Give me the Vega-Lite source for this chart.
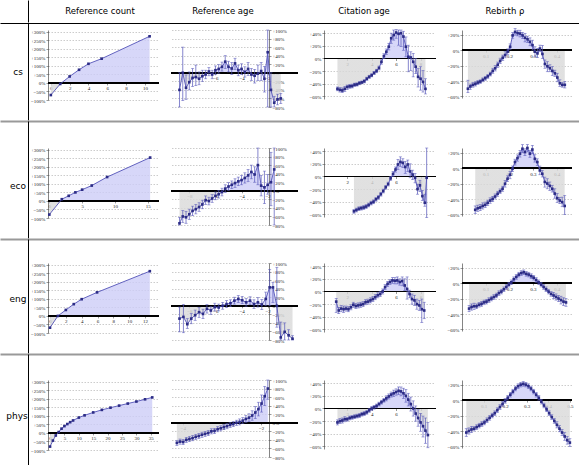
{
"$schema":"https://vega.github.io/schema/vega-lite/v6.json",
"padding":0,
"background":"white",
"config":{"view":{"stroke":null},"concat":{"spacing":0},
 "axis":{"labelFont":"Liberation Serif","labelFontSize":5,"labelColor":"#222","tickColor":"#333","tickSize":2,"tickWidth":0.5,"domainColor":"#333","domainWidth":0.6,"labelPadding":1,"gridColor":"#999","gridDash":[1.5,1.5],"gridWidth":0.5,"labelFlush":false,"labelOverlap":false},
 "axisX":{"grid":false,"domain":false,"zindex":1},
 "axisY":{"grid":true,"domain":true},
 "area":{"opacity":0.8}},
"spacing":0,
"vconcat":[
{"hconcat":[
 {"width":28,"height":22,"data":{"values":[{"name":""}]},"mark":{"type":"text","font":"DejaVu Sans","fontSize":9},"encoding":{"text":{"field":"name"},"y":{"datum":0,"type":"quantitative","scale":{"domain":[-1,1]},"axis":{"orient":"right","domain":true,"domainColor":"black","domainWidth":1,"ticks":false,"labels":false,"grid":false,"title":null}}}},
 {"hconcat":[
  {"width":144,"height":22,"data":{"values":[{"t":"Reference count"}]},"mark":{"type":"text","font":"DejaVu Sans","fontSize":8.5},"encoding":{"text":{"field":"t"}}},
  {"width":102,"height":22,"data":{"values":[{"t":"Reference age"}]},"mark":{"type":"text","font":"DejaVu Sans","fontSize":8.5},"encoding":{"text":{"field":"t"}}},
  {"width":180,"height":22,"data":{"values":[{"t":"Citation age"}]},"mark":{"type":"text","font":"DejaVu Sans","fontSize":8.5},"encoding":{"text":{"field":"t"}}},
  {"width":102,"height":22,"data":{"values":[{"t":"Rebirth ρ"}]},"mark":{"type":"text","font":"DejaVu Sans","fontSize":8.5},"encoding":{"text":{"field":"t"}}}
 ],"spacing":0}
],"spacing":0},
{"width":579,"height":1,"data":{"values":[{}]},"mark":{"type":"rule","opacity":0},"encoding":{"x":{"datum":0,"type":"quantitative","scale":{"domain":[0,1]},"axis":{"orient":"bottom","domain":true,"domainColor":"black","domainWidth":1,"ticks":false,"labels":false,"grid":false,"title":null}}}},
{"hconcat":[
 {"width":28,"height":97,"data":{"values":[{"name":"cs"}]},"mark":{"type":"text","font":"DejaVu Sans","fontSize":9,"dx":4},"encoding":{"text":{"field":"name"},"y":{"datum":0,"type":"quantitative","scale":{"domain":[-1,1]},"axis":{"orient":"right","domain":true,"domainColor":"black","domainWidth":1,"ticks":false,"labels":false,"grid":false,"title":null}}}},
 {"vconcat":[
  {"width":1,"height":5,"data":{"values":[{}]},"mark":{"type":"rule","opacity":0},"encoding":{"x":{"datum":0,"type":"quantitative","scale":{"domain":[0,1]},"axis":null}}},
  {"hconcat":[
   {"width":111,"height":70,"data":{"values":[{"x":0,"v":-71},{"x":1,"v":-6},{"x":2,"v":38},{"x":3,"v":77},{"x":4,"v":112},{"x":5.4,"v":142},{"x":10.5,"v":273}]},
    "encoding":{"x":{"field":"x","type":"quantitative","scale":{"domain":[-0.3,11.5],"nice":false,"zero":false},"axis":{"values":[0,2,4,6,8,10],"offset":-17.07,"title":null}},
     "y":{"field":"v","type":"quantitative","scale":{"domain":[-100,310],"nice":false,"zero":false},"axis":{"values":[-100,-50,0,50,100,150,200,250,300],"title":null,"labelExpr":"datum.value > 0 ? '+' + datum.value + '%' : (datum.value < 0 ? '−' + (-datum.value) + '%' : '0%')"}}},
    "layer":[
     {"mark":{"type":"area","color":{"gradient":"linear","x1":0,"y1":0,"x2":0,"y2":1,"stops":[{"offset":0,"color":"#cdcdf7"},{"offset":0.794,"color":"#cdcdf7"},{"offset":0.794,"color":"#d9d9d9"},{"offset":1,"color":"#d9d9d9"}]}},"encoding":{"y2":{"datum":0}}},
     {"mark":{"type":"rule","color":"black","strokeWidth":1.2},"encoding":{"x":{"datum":-0.3},"x2":{"datum":11.5},"y":{"datum":0}}},
     {"mark":{"type":"line","color":"#5252b8","strokeWidth":0.9},"encoding":{}},
     {"mark":{"type":"square","size":7,"color":"#2c2c86","opacity":1},"encoding":{}}
    ]},
   {"width":98,"height":77,"data":{"values":[{"x":-8.75,"v":-40,"lo":-80,"hi":0},{"x":-8.5,"v":0,"lo":-65,"hi":60},{"x":-8.25,"v":-35,"lo":-62,"hi":-5},{"x":-8,"v":-22,"lo":-40,"hi":2},{"x":-7.75,"v":-12,"lo":-32,"hi":10},{"x":-7.5,"v":-10,"lo":-30,"hi":18},{"x":-7.25,"v":-14,"lo":-28,"hi":2},{"x":-7,"v":-8,"lo":-20,"hi":6},{"x":-6.75,"v":-4,"lo":-14,"hi":6},{"x":-6.5,"v":3,"lo":-7,"hi":12},{"x":-6.25,"v":-4,"lo":-14,"hi":6},{"x":-6,"v":6,"lo":-4,"hi":16},{"x":-5.75,"v":9,"lo":-1,"hi":19},{"x":-5.5,"v":14,"lo":4,"hi":25},{"x":-5.25,"v":26,"lo":10,"hi":40},{"x":-5,"v":14,"lo":2,"hi":27},{"x":-4.75,"v":10,"lo":-4,"hi":24},{"x":-4.5,"v":22,"lo":8,"hi":34},{"x":-4.25,"v":6,"lo":-7,"hi":18},{"x":-4,"v":9,"lo":-4,"hi":21},{"x":-3.75,"v":2,"lo":-10,"hi":14},{"x":-3.5,"v":9,"lo":-6,"hi":24},{"x":-3.25,"v":-4,"lo":-18,"hi":10},{"x":-3,"v":-7,"lo":-24,"hi":8},{"x":-2.75,"v":-2,"lo":-18,"hi":18},{"x":-2.5,"v":4,"lo":-18,"hi":24},{"x":-2.25,"v":-14,"lo":-45,"hi":15},{"x":-2,"v":48,"lo":-80,"hi":100},{"x":-1.75,"v":-40,"lo":-80,"hi":0},{"x":-1.5,"v":-70,"lo":-80,"hi":-55},{"x":-1.25,"v":-62,"lo":-75,"hi":-50},{"x":-1,"v":-60,"lo":-72,"hi":-48}]},
    "encoding":{"x":{"field":"x","type":"quantitative","scale":{"domain":[-9.4,-1.9],"nice":false,"zero":false},"axis":{"values":[-8,-6,-4,-2],"offset":-34.2,"title":null}},
     "y":{"field":"v","type":"quantitative","scale":{"domain":[-80,100],"nice":false,"zero":false},"axis":{"orient":"right","values":[-80,-60,-40,-20,0,20,40,60,80,100],"title":null,"labelExpr":"datum.value > 0 ? '+' + datum.value + '%' : (datum.value < 0 ? '−' + (-datum.value) + '%' : '0%')"}}},
    "layer":[
     {"mark":{"type":"area","color":{"gradient":"linear","x1":0,"y1":0,"x2":0,"y2":1,"stops":[{"offset":0,"color":"#cdcdf7"},{"offset":0.407,"color":"#cdcdf7"},{"offset":0.407,"color":"#d9d9d9"},{"offset":1,"color":"#d9d9d9"}]}},"encoding":{"y2":{"datum":0}}},
     {"mark":{"type":"rule","color":"black","strokeWidth":1.2},"encoding":{"x":{"datum":-9.4},"x2":{"datum":0.32},"y":{"datum":0}}},
     {"mark":{"type":"rule","color":"#5252b8","strokeWidth":0.7},"encoding":{"y":{"field":"lo","type":"quantitative","title":null},"y2":{"field":"hi"}}},
     {"mark":{"type":"tick","orient":"horizontal","size":3,"thickness":0.7,"color":"#5252b8"},"encoding":{"y":{"field":"lo","type":"quantitative","title":null}}},
     {"mark":{"type":"tick","orient":"horizontal","size":3,"thickness":0.7,"color":"#5252b8"},"encoding":{"y":{"field":"hi","type":"quantitative","title":null}}},
     {"mark":{"type":"line","color":"#5252b8","strokeWidth":0.9},"encoding":{}},
     {"mark":{"type":"square","size":7,"color":"#2c2c86","opacity":1},"encoding":{}}
    ]},
   {"width":110,"height":69,"data":{"values":[{"x":1.2,"v":-48,"lo":-51,"hi":-45},{"x":1.4,"v":-49.5,"lo":-53,"hi":-46},{"x":1.6,"v":-50.5,"lo":-54,"hi":-46.5},{"x":1.8,"v":-48,"lo":-52,"hi":-44},{"x":2,"v":-45,"lo":-49,"hi":-42},{"x":2.2,"v":-44,"lo":-47,"hi":-41},{"x":2.4,"v":-43.6,"lo":-46.5,"hi":-40.5},{"x":2.6,"v":-41.5,"lo":-44,"hi":-39},{"x":2.8,"v":-41,"lo":-43.5,"hi":-38.5},{"x":3,"v":-39,"lo":-41.5,"hi":-36.5},{"x":3.2,"v":-37.8,"lo":-40,"hi":-35.5},{"x":3.4,"v":-36,"lo":-38.5,"hi":-33.5},{"x":3.6,"v":-32,"lo":-34.5,"hi":-29.5},{"x":3.8,"v":-29,"lo":-31.5,"hi":-26.5},{"x":4,"v":-26.6,"lo":-29,"hi":-24},{"x":4.2,"v":-22.9,"lo":-25.5,"hi":-20.5},{"x":4.4,"v":-19.7,"lo":-22.5,"hi":-17},{"x":4.6,"v":-15,"lo":-18,"hi":-12},{"x":4.8,"v":-5.3,"lo":-9,"hi":-2},{"x":5,"v":3.7,"lo":0,"hi":7.5},{"x":5.2,"v":10.6,"lo":6.5,"hi":15},{"x":5.4,"v":18.6,"lo":13.5,"hi":24},{"x":5.6,"v":32,"lo":24,"hi":40},{"x":5.8,"v":37,"lo":29,"hi":45},{"x":6,"v":41,"lo":32,"hi":46},{"x":6.2,"v":39,"lo":21,"hi":45},{"x":6.4,"v":40,"lo":19,"hi":45},{"x":6.6,"v":34.6,"lo":13,"hi":43},{"x":6.8,"v":18.6,"lo":2.7,"hi":34},{"x":7,"v":2.7,"lo":-21,"hi":21},{"x":7.2,"v":1.6,"lo":-19,"hi":10.6},{"x":7.4,"v":-5.3,"lo":-29,"hi":8},{"x":7.6,"v":-13,"lo":-24,"hi":0},{"x":7.8,"v":-29,"lo":-45,"hi":-16},{"x":8,"v":-32,"lo":-50,"hi":-13},{"x":8.2,"v":-37,"lo":-53,"hi":-19},{"x":8.4,"v":-48,"lo":-56,"hi":-32}]},
    "encoding":{"x":{"field":"x","type":"quantitative","scale":{"domain":[0.1,9.1],"nice":false,"zero":false},"axis":{"values":[2,4,6,8],"offset":-40.5,"title":null}},
     "y":{"field":"v","type":"quantitative","scale":{"domain":[-64,45],"nice":false,"zero":false},"axis":{"values":[-60,-40,-20,0,20,40],"title":null,"labelExpr":"datum.value > 0 ? '+' + datum.value + '%' : (datum.value < 0 ? '−' + (-datum.value) + '%' : '0%')"}}},
    "layer":[
     {"mark":{"type":"area","color":{"gradient":"linear","x1":0,"y1":0,"x2":0,"y2":1,"stops":[{"offset":0,"color":"#cdcdf7"},{"offset":0.448,"color":"#cdcdf7"},{"offset":0.448,"color":"#d9d9d9"},{"offset":1,"color":"#d9d9d9"}]}},"encoding":{"y2":{"datum":0}}},
     {"mark":{"type":"rule","color":"black","strokeWidth":1.2},"encoding":{"x":{"datum":0.1},"x2":{"datum":9.25},"y":{"datum":0}}},
     {"mark":{"type":"rule","color":"#5252b8","strokeWidth":0.7},"encoding":{"y":{"field":"lo","type":"quantitative","title":null},"y2":{"field":"hi"}}},
     {"mark":{"type":"tick","orient":"horizontal","size":3,"thickness":0.7,"color":"#5252b8"},"encoding":{"y":{"field":"lo","type":"quantitative","title":null}}},
     {"mark":{"type":"tick","orient":"horizontal","size":3,"thickness":0.7,"color":"#5252b8"},"encoding":{"y":{"field":"hi","type":"quantitative","title":null}}},
     {"mark":{"type":"line","color":"#5252b8","strokeWidth":0.9},"encoding":{}},
     {"mark":{"type":"square","size":7,"color":"#2c2c86","opacity":1},"encoding":{}}
    ]},
   {"width":110,"height":68,"data":{"values":[{"x":0.025,"v":-50,"lo":-55,"hi":-39},{"x":0.0355,"v":-47,"lo":-51,"hi":-44},{"x":0.046,"v":-45,"lo":-48,"hi":-42},{"x":0.0565,"v":-43.7,"lo":-46.5,"hi":-41},{"x":0.067,"v":-42,"lo":-44.5,"hi":-39.5},{"x":0.0775,"v":-40.7,"lo":-43,"hi":-38.5},{"x":0.088,"v":-38.5,"lo":-41,"hi":-36},{"x":0.0985,"v":-36.4,"lo":-39,"hi":-34},{"x":0.109,"v":-34,"lo":-36.5,"hi":-31.5},{"x":0.1195,"v":-31,"lo":-33.5,"hi":-28.5},{"x":0.13,"v":-27,"lo":-30,"hi":-23.5},{"x":0.1405,"v":-23.5,"lo":-27,"hi":-20},{"x":0.151,"v":-19,"lo":-22.5,"hi":-15.5},{"x":0.1615,"v":-14,"lo":-17.5,"hi":-10.5},{"x":0.172,"v":-10,"lo":-13.5,"hi":-6.5},{"x":0.1825,"v":-6.4,"lo":-10,"hi":-2.1},{"x":0.193,"v":-2,"lo":-5.5,"hi":1.5},{"x":0.2035,"v":4.3,"lo":0.5,"hi":8},{"x":0.214,"v":19,"lo":15.4,"hi":22.7},{"x":0.2245,"v":23.5,"lo":19.3,"hi":27.8},{"x":0.235,"v":22,"lo":18.4,"hi":25.7},{"x":0.2455,"v":21.4,"lo":17,"hi":25.7},{"x":0.256,"v":19,"lo":15,"hi":23},{"x":0.2665,"v":16,"lo":10.7,"hi":21.4},{"x":0.277,"v":14,"lo":10,"hi":18},{"x":0.2875,"v":10.7,"lo":5.6,"hi":15.8},{"x":0.298,"v":6.4,"lo":0,"hi":12.8},{"x":0.3085,"v":-2,"lo":-8.6,"hi":4.3},{"x":0.319,"v":-4.3,"lo":-9.8,"hi":2.1},{"x":0.3295,"v":2,"lo":-2.1,"hi":6.4},{"x":0.34,"v":-5,"lo":-11,"hi":6},{"x":0.3505,"v":-18,"lo":-23.5,"hi":-12.8},{"x":0.361,"v":-21,"lo":-28,"hi":-15},{"x":0.3715,"v":-23.5,"lo":-28,"hi":-19},{"x":0.382,"v":-27,"lo":-33,"hi":-21.4},{"x":0.3925,"v":-30,"lo":-34,"hi":-26},{"x":0.403,"v":-35.5,"lo":-41,"hi":-30},{"x":0.4135,"v":-43,"lo":-47,"hi":-38.5},{"x":0.424,"v":-45,"lo":-48,"hi":-42},{"x":0.4345,"v":-45,"lo":-49,"hi":-40.7}]},
    "encoding":{"x":{"field":"x","type":"quantitative","scale":{"domain":[0,0.465],"nice":false,"zero":false},"axis":{"values":[0.1,0.2,0.3,0.4],"offset":-47.9,"title":null}},
     "y":{"field":"v","type":"quantitative","scale":{"domain":[-62,26],"nice":false,"zero":false},"axis":{"values":[-60,-40,-20,0,20],"title":null,"labelExpr":"datum.value > 0 ? '+' + datum.value + '%' : (datum.value < 0 ? '−' + (-datum.value) + '%' : '0%')"}}},
    "layer":[
     {"mark":{"type":"area","color":{"gradient":"linear","x1":0,"y1":0,"x2":0,"y2":1,"stops":[{"offset":0,"color":"#cdcdf7"},{"offset":0.32,"color":"#cdcdf7"},{"offset":0.32,"color":"#d9d9d9"},{"offset":1,"color":"#d9d9d9"}]}},"encoding":{"y2":{"datum":0}}},
     {"mark":{"type":"rule","color":"black","strokeWidth":1.2},"encoding":{"x":{"datum":0},"x2":{"datum":0.465},"y":{"datum":0}}},
     {"mark":{"type":"rule","color":"#5252b8","strokeWidth":0.7},"encoding":{"y":{"field":"lo","type":"quantitative","title":null},"y2":{"field":"hi"}}},
     {"mark":{"type":"tick","orient":"horizontal","size":3,"thickness":0.7,"color":"#5252b8"},"encoding":{"y":{"field":"lo","type":"quantitative","title":null}}},
     {"mark":{"type":"tick","orient":"horizontal","size":3,"thickness":0.7,"color":"#5252b8"},"encoding":{"y":{"field":"hi","type":"quantitative","title":null}}},
     {"mark":{"type":"line","color":"#5252b8","strokeWidth":0.9},"encoding":{}},
     {"mark":{"type":"square","size":7,"color":"#2c2c86","opacity":1},"encoding":{}}
    ]}
  ],"spacing":10}
 ],"spacing":0}
],"spacing":2},
{"width":579,"height":1,"data":{"values":[{}]},"mark":{"type":"rule","opacity":0},"encoding":{"x":{"datum":0,"type":"quantitative","scale":{"domain":[0,1]},"axis":{"orient":"bottom","domain":true,"domainColor":"#999","domainWidth":2,"ticks":false,"labels":false,"grid":false,"title":null}}}},
{"hconcat":[
 {"width":28,"height":117,"data":{"values":[{"name":"eco"}]},"mark":{"type":"text","font":"DejaVu Sans","fontSize":9,"dy":6,"dx":4},"encoding":{"text":{"field":"name"},"y":{"datum":0,"type":"quantitative","scale":{"domain":[-1,1]},"axis":{"orient":"right","domain":true,"domainColor":"black","domainWidth":1,"ticks":false,"labels":false,"grid":false,"title":null}}}},
 {"vconcat":[
  {"width":1,"height":23,"data":{"values":[{}]},"mark":{"type":"rule","opacity":0},"encoding":{"x":{"datum":0,"type":"quantitative","scale":{"domain":[0,1]},"axis":null}}},
  {"hconcat":[
   {"width":111,"height":70,"data":{"values":[{"x":0,"v":-80},{"x":1.9,"v":10},{"x":2.95,"v":30},{"x":3.97,"v":50},{"x":5,"v":66},{"x":6.46,"v":90},{"x":8.8,"v":140},{"x":15.35,"v":254}]},
    "encoding":{"x":{"field":"x","type":"quantitative","scale":{"domain":[-0.2,16.7],"nice":false,"zero":false},"axis":{"values":[0,5,10,15],"offset":-17.07,"title":null}},
     "y":{"field":"v","type":"quantitative","scale":{"domain":[-100,310],"nice":false,"zero":false},"axis":{"values":[-100,-50,0,50,100,150,200,250,300],"title":null,"labelExpr":"datum.value > 0 ? '+' + datum.value + '%' : (datum.value < 0 ? '−' + (-datum.value) + '%' : '0%')"}}},
    "layer":[
     {"mark":{"type":"area","color":{"gradient":"linear","x1":0,"y1":0,"x2":0,"y2":1,"stops":[{"offset":0,"color":"#cdcdf7"},{"offset":0.76,"color":"#cdcdf7"},{"offset":0.76,"color":"#d9d9d9"},{"offset":1,"color":"#d9d9d9"}]}},"encoding":{"y2":{"datum":0}}},
     {"mark":{"type":"rule","color":"black","strokeWidth":1.2},"encoding":{"x":{"datum":-0.2},"x2":{"datum":16.7},"y":{"datum":0}}},
     {"mark":{"type":"line","color":"#5252b8","strokeWidth":0.9},"encoding":{}},
     {"mark":{"type":"square","size":7,"color":"#2c2c86","opacity":1},"encoding":{}}
    ]},
   {"width":98,"height":77,"data":{"values":[{"x":-8.75,"v":-76,"lo":-80,"hi":-62},{"x":-8.5,"v":-60,"lo":-74,"hi":-46},{"x":-8.25,"v":-62,"lo":-76,"hi":-48},{"x":-8,"v":-55,"lo":-67,"hi":-43},{"x":-7.75,"v":-47,"lo":-58,"hi":-36},{"x":-7.5,"v":-43,"lo":-54,"hi":-32},{"x":-7.25,"v":-38,"lo":-48,"hi":-28},{"x":-7,"v":-32,"lo":-42,"hi":-22},{"x":-6.75,"v":-22,"lo":-32,"hi":-12},{"x":-6.5,"v":-24,"lo":-33,"hi":-15},{"x":-6.25,"v":-18,"lo":-27,"hi":-9},{"x":-6,"v":-12,"lo":-21,"hi":-3},{"x":-5.75,"v":-8,"lo":-17,"hi":1},{"x":-5.5,"v":-3,"lo":-12,"hi":6},{"x":-5.25,"v":5,"lo":-4,"hi":14},{"x":-5,"v":10,"lo":1,"hi":19},{"x":-4.75,"v":14,"lo":5,"hi":23},{"x":-4.5,"v":18,"lo":8,"hi":28},{"x":-4.25,"v":22,"lo":12,"hi":32},{"x":-4,"v":25,"lo":14,"hi":36},{"x":-3.75,"v":30,"lo":18,"hi":42},{"x":-3.5,"v":36,"lo":22,"hi":50},{"x":-3.25,"v":44,"lo":28,"hi":60},{"x":-3,"v":38,"lo":20,"hi":56},{"x":-2.75,"v":60,"lo":14,"hi":100},{"x":-2.5,"v":12,"lo":-12,"hi":36},{"x":-2.25,"v":8,"lo":-30,"hi":46},{"x":-2,"v":14,"lo":-8,"hi":38},{"x":-1.75,"v":20,"lo":-35,"hi":90},{"x":-1.5,"v":50,"lo":-80,"hi":100}]},
    "encoding":{"x":{"field":"x","type":"quantitative","scale":{"domain":[-9.4,-1.9],"nice":false,"zero":false},"axis":{"values":[-8,-6,-4,-2],"offset":-34.2,"title":null}},
     "y":{"field":"v","type":"quantitative","scale":{"domain":[-80,100],"nice":false,"zero":false},"axis":{"orient":"right","values":[-80,-60,-40,-20,0,20,40,60,80,100],"title":null,"labelExpr":"datum.value > 0 ? '+' + datum.value + '%' : (datum.value < 0 ? '−' + (-datum.value) + '%' : '0%')"}}},
    "layer":[
     {"mark":{"type":"area","color":{"gradient":"linear","x1":0,"y1":0,"x2":0,"y2":1,"stops":[{"offset":0,"color":"#cdcdf7"},{"offset":0.441,"color":"#cdcdf7"},{"offset":0.441,"color":"#d9d9d9"},{"offset":1,"color":"#d9d9d9"}]}},"encoding":{"y2":{"datum":0}}},
     {"mark":{"type":"rule","color":"black","strokeWidth":1.2},"encoding":{"x":{"datum":-9.4},"x2":{"datum":0.32},"y":{"datum":0}}},
     {"mark":{"type":"rule","color":"#5252b8","strokeWidth":0.7},"encoding":{"y":{"field":"lo","type":"quantitative","title":null},"y2":{"field":"hi"}}},
     {"mark":{"type":"tick","orient":"horizontal","size":3,"thickness":0.7,"color":"#5252b8"},"encoding":{"y":{"field":"lo","type":"quantitative","title":null}}},
     {"mark":{"type":"tick","orient":"horizontal","size":3,"thickness":0.7,"color":"#5252b8"},"encoding":{"y":{"field":"hi","type":"quantitative","title":null}}},
     {"mark":{"type":"line","color":"#5252b8","strokeWidth":0.9},"encoding":{}},
     {"mark":{"type":"square","size":7,"color":"#2c2c86","opacity":1},"encoding":{}}
    ]},
   {"width":110,"height":69,"data":{"values":[{"x":2.55,"v":-55,"lo":-58,"hi":-52},{"x":2.75,"v":-53,"lo":-56,"hi":-50},{"x":2.95,"v":-51,"lo":-54,"hi":-48},{"x":3.15,"v":-50,"lo":-53,"hi":-47},{"x":3.35,"v":-49,"lo":-52,"hi":-46},{"x":3.55,"v":-47.5,"lo":-50.5,"hi":-44.5},{"x":3.75,"v":-45,"lo":-48,"hi":-42},{"x":3.95,"v":-42,"lo":-45,"hi":-39},{"x":4.15,"v":-40,"lo":-43,"hi":-37},{"x":4.35,"v":-36,"lo":-39,"hi":-33},{"x":4.55,"v":-33,"lo":-36,"hi":-30},{"x":4.75,"v":-28,"lo":-31,"hi":-25},{"x":4.95,"v":-23,"lo":-26,"hi":-20},{"x":5.15,"v":-17,"lo":-20,"hi":-14},{"x":5.35,"v":-12,"lo":-15,"hi":-9},{"x":5.55,"v":-3,"lo":-6,"hi":0},{"x":5.75,"v":4,"lo":0,"hi":8},{"x":5.95,"v":11,"lo":7,"hi":15},{"x":6.15,"v":19,"lo":11,"hi":27},{"x":6.35,"v":23,"lo":16,"hi":31},{"x":6.55,"v":21.6,"lo":14,"hi":28},{"x":6.75,"v":15,"lo":5,"hi":24},{"x":6.95,"v":19,"lo":8,"hi":26},{"x":7.15,"v":8,"lo":-2,"hi":20},{"x":7.35,"v":3,"lo":-5,"hi":10},{"x":7.55,"v":-2,"lo":-10,"hi":5},{"x":7.75,"v":-20,"lo":-28,"hi":-12},{"x":7.95,"v":-14,"lo":-24,"hi":-6},{"x":8.15,"v":-31,"lo":-38,"hi":-22},{"x":8.35,"v":-41.5,"lo":-47,"hi":-28},{"x":8.5,"v":-2,"lo":-65,"hi":45}]},
    "encoding":{"x":{"field":"x","type":"quantitative","scale":{"domain":[0.1,9.1],"nice":false,"zero":false},"axis":{"values":[2,4,6,8],"offset":-40.5,"title":null}},
     "y":{"field":"v","type":"quantitative","scale":{"domain":[-64,45],"nice":false,"zero":false},"axis":{"values":[-60,-40,-20,0,20,40],"title":null,"labelExpr":"datum.value > 0 ? '+' + datum.value + '%' : (datum.value < 0 ? '−' + (-datum.value) + '%' : '0%')"}}},
    "layer":[
     {"mark":{"type":"area","color":{"gradient":"linear","x1":0,"y1":0,"x2":0,"y2":1,"stops":[{"offset":0,"color":"#cdcdf7"},{"offset":0.295,"color":"#cdcdf7"},{"offset":0.295,"color":"#d9d9d9"},{"offset":1,"color":"#d9d9d9"}]}},"encoding":{"y2":{"datum":0}}},
     {"mark":{"type":"rule","color":"black","strokeWidth":1.2},"encoding":{"x":{"datum":0.1},"x2":{"datum":9.25},"y":{"datum":0}}},
     {"mark":{"type":"rule","color":"#5252b8","strokeWidth":0.7},"encoding":{"y":{"field":"lo","type":"quantitative","title":null},"y2":{"field":"hi"}}},
     {"mark":{"type":"tick","orient":"horizontal","size":3,"thickness":0.7,"color":"#5252b8"},"encoding":{"y":{"field":"lo","type":"quantitative","title":null}}},
     {"mark":{"type":"tick","orient":"horizontal","size":3,"thickness":0.7,"color":"#5252b8"},"encoding":{"y":{"field":"hi","type":"quantitative","title":null}}},
     {"mark":{"type":"line","color":"#5252b8","strokeWidth":0.9},"encoding":{}},
     {"mark":{"type":"square","size":7,"color":"#2c2c86","opacity":1},"encoding":{}}
    ]},
   {"width":110,"height":68,"data":{"values":[{"x":0.056,"v":-54,"lo":-59,"hi":-49},{"x":0.0665,"v":-52,"lo":-56,"hi":-48},{"x":0.077,"v":-51,"lo":-55,"hi":-47},{"x":0.0875,"v":-49,"lo":-53,"hi":-45},{"x":0.098,"v":-47.6,"lo":-51,"hi":-44},{"x":0.1085,"v":-45,"lo":-48.5,"hi":-41.5},{"x":0.119,"v":-42,"lo":-45.5,"hi":-38.5},{"x":0.1295,"v":-40,"lo":-43.5,"hi":-36.5},{"x":0.14,"v":-36.8,"lo":-40,"hi":-33.5},{"x":0.1505,"v":-33.3,"lo":-36.5,"hi":-30},{"x":0.161,"v":-30,"lo":-33,"hi":-27},{"x":0.1715,"v":-26.8,"lo":-30,"hi":-23.5},{"x":0.182,"v":-20.3,"lo":-24.6,"hi":-16},{"x":0.1925,"v":-13.8,"lo":-17.5,"hi":-10},{"x":0.203,"v":-8.6,"lo":-13.8,"hi":-4.3},{"x":0.2135,"v":-0.9,"lo":-4.5,"hi":2.7},{"x":0.224,"v":7.8,"lo":4,"hi":11.5},{"x":0.2345,"v":13,"lo":9,"hi":17},{"x":0.245,"v":18.6,"lo":14.3,"hi":22.9},{"x":0.2555,"v":25,"lo":19.9,"hi":30.3},{"x":0.266,"v":20.8,"lo":16.5,"hi":25},{"x":0.2765,"v":26,"lo":20.8,"hi":30.3},{"x":0.287,"v":18.6,"lo":14,"hi":23},{"x":0.2975,"v":24,"lo":18.6,"hi":29.4},{"x":0.308,"v":12,"lo":7.8,"hi":17.3},{"x":0.3185,"v":7.8,"lo":3.5,"hi":12},{"x":0.329,"v":-3,"lo":-8.6,"hi":2.6},{"x":0.3395,"v":-7.4,"lo":-11.5,"hi":-3},{"x":0.35,"v":-18,"lo":-24.6,"hi":-11.7},{"x":0.3605,"v":-20,"lo":-26.8,"hi":-13.8},{"x":0.371,"v":-23,"lo":-29,"hi":-18},{"x":0.3815,"v":-26.8,"lo":-31,"hi":-22.5},{"x":0.392,"v":-33,"lo":-39,"hi":-26.8},{"x":0.4025,"v":-39,"lo":-44.5,"hi":-33},{"x":0.413,"v":-42,"lo":-46,"hi":-38},{"x":0.4235,"v":-44,"lo":-50,"hi":-37.6},{"x":0.434,"v":-49,"lo":-60,"hi":-35.5}]},
    "encoding":{"x":{"field":"x","type":"quantitative","scale":{"domain":[0,0.465],"nice":false,"zero":false},"axis":{"values":[0.1,0.2,0.3,0.4],"offset":-47.9,"title":null}},
     "y":{"field":"v","type":"quantitative","scale":{"domain":[-62,26],"nice":false,"zero":false},"axis":{"values":[-60,-40,-20,0,20],"title":null,"labelExpr":"datum.value > 0 ? '+' + datum.value + '%' : (datum.value < 0 ? '−' + (-datum.value) + '%' : '0%')"}}},
    "layer":[
     {"mark":{"type":"area","color":{"gradient":"linear","x1":0,"y1":0,"x2":0,"y2":1,"stops":[{"offset":0,"color":"#cdcdf7"},{"offset":0.325,"color":"#cdcdf7"},{"offset":0.325,"color":"#d9d9d9"},{"offset":1,"color":"#d9d9d9"}]}},"encoding":{"y2":{"datum":0}}},
     {"mark":{"type":"rule","color":"black","strokeWidth":1.2},"encoding":{"x":{"datum":0},"x2":{"datum":0.465},"y":{"datum":0}}},
     {"mark":{"type":"rule","color":"#5252b8","strokeWidth":0.7},"encoding":{"y":{"field":"lo","type":"quantitative","title":null},"y2":{"field":"hi"}}},
     {"mark":{"type":"tick","orient":"horizontal","size":3,"thickness":0.7,"color":"#5252b8"},"encoding":{"y":{"field":"lo","type":"quantitative","title":null}}},
     {"mark":{"type":"tick","orient":"horizontal","size":3,"thickness":0.7,"color":"#5252b8"},"encoding":{"y":{"field":"hi","type":"quantitative","title":null}}},
     {"mark":{"type":"line","color":"#5252b8","strokeWidth":0.9},"encoding":{}},
     {"mark":{"type":"square","size":7,"color":"#2c2c86","opacity":1},"encoding":{}}
    ]}
  ],"spacing":10}
 ],"spacing":0}
],"spacing":2},
{"width":579,"height":1,"data":{"values":[{}]},"mark":{"type":"rule","opacity":0},"encoding":{"x":{"datum":0,"type":"quantitative","scale":{"domain":[0,1]},"axis":{"orient":"bottom","domain":true,"domainColor":"#999","domainWidth":2,"ticks":false,"labels":false,"grid":false,"title":null}}}},
{"hconcat":[
 {"width":28,"height":114,"data":{"values":[{"name":"eng"}]},"mark":{"type":"text","font":"DejaVu Sans","fontSize":9,"dy":3,"dx":4},"encoding":{"text":{"field":"name"},"y":{"datum":0,"type":"quantitative","scale":{"domain":[-1,1]},"axis":{"orient":"right","domain":true,"domainColor":"black","domainWidth":1,"ticks":false,"labels":false,"grid":false,"title":null}}}},
 {"vconcat":[
  {"width":1,"height":22,"data":{"values":[{}]},"mark":{"type":"rule","opacity":0},"encoding":{"x":{"datum":0,"type":"quantitative","scale":{"domain":[0,1]},"axis":null}}},
  {"hconcat":[
   {"width":111,"height":70,"data":{"values":[{"x":0,"v":-69},{"x":1,"v":0},{"x":2,"v":35},{"x":3,"v":69},{"x":4,"v":98},{"x":5.94,"v":138},{"x":12.6,"v":262}]},
    "encoding":{"x":{"field":"x","type":"quantitative","scale":{"domain":[-0.25,13.76],"nice":false,"zero":false},"axis":{"values":[0,2,4,6,8,10,12],"offset":-17.07,"title":null}},
     "y":{"field":"v","type":"quantitative","scale":{"domain":[-100,310],"nice":false,"zero":false},"axis":{"values":[-100,-50,0,50,100,150,200,250,300],"title":null,"labelExpr":"datum.value > 0 ? '+' + datum.value + '%' : (datum.value < 0 ? '−' + (-datum.value) + '%' : '0%')"}}},
    "layer":[
     {"mark":{"type":"area","color":{"gradient":"linear","x1":0,"y1":0,"x2":0,"y2":1,"stops":[{"offset":0,"color":"#cdcdf7"},{"offset":0.792,"color":"#cdcdf7"},{"offset":0.792,"color":"#d9d9d9"},{"offset":1,"color":"#d9d9d9"}]}},"encoding":{"y2":{"datum":0}}},
     {"mark":{"type":"rule","color":"black","strokeWidth":1.2},"encoding":{"x":{"datum":-0.25},"x2":{"datum":13.76},"y":{"datum":0}}},
     {"mark":{"type":"line","color":"#5252b8","strokeWidth":0.9},"encoding":{}},
     {"mark":{"type":"square","size":7,"color":"#2c2c86","opacity":1},"encoding":{}}
    ]},
   {"width":98,"height":77,"data":{"values":[{"x":-8.75,"v":-30,"lo":-61,"hi":-3},{"x":-8.45,"v":-26,"lo":-63,"hi":3},{"x":-8.15,"v":-43,"lo":-53,"hi":-30},{"x":-7.85,"v":-30,"lo":-42,"hi":-18},{"x":-7.55,"v":-22,"lo":-34,"hi":-10},{"x":-7.25,"v":-15,"lo":-27,"hi":-4},{"x":-6.95,"v":-19,"lo":-30,"hi":-8},{"x":-6.65,"v":-7,"lo":-17,"hi":3},{"x":-6.35,"v":-11,"lo":-20,"hi":-2},{"x":-6.05,"v":-3,"lo":-12,"hi":6},{"x":-5.75,"v":-4,"lo":-12,"hi":4},{"x":-5.45,"v":0,"lo":-8,"hi":8},{"x":-5.15,"v":4,"lo":-4,"hi":12},{"x":-4.85,"v":6,"lo":-2,"hi":14},{"x":-4.55,"v":12,"lo":4,"hi":20},{"x":-4.25,"v":16,"lo":8,"hi":24},{"x":-3.95,"v":13,"lo":5,"hi":22},{"x":-3.65,"v":8,"lo":-1,"hi":17},{"x":-3.35,"v":12,"lo":3,"hi":21},{"x":-3.05,"v":4,"lo":-6,"hi":14},{"x":-2.75,"v":8,"lo":-3,"hi":19},{"x":-2.45,"v":3,"lo":-9,"hi":15},{"x":-2.15,"v":16,"lo":0,"hi":32},{"x":-1.85,"v":43,"lo":0,"hi":85},{"x":-1.6,"v":43,"lo":8,"hi":55},{"x":-1.3,"v":0,"lo":-50,"hi":90},{"x":-1,"v":-74,"lo":-80,"hi":-38},{"x":-0.7,"v":-61,"lo":-80,"hi":-40},{"x":-0.4,"v":-69,"lo":-80,"hi":-56},{"x":-0.1,"v":-77,"lo":-80,"hi":-70}]},
    "encoding":{"x":{"field":"x","type":"quantitative","scale":{"domain":[-9.4,-1.9],"nice":false,"zero":false},"axis":{"values":[-8,-6,-4,-2],"offset":-34.2,"title":null}},
     "y":{"field":"v","type":"quantitative","scale":{"domain":[-80,100],"nice":false,"zero":false},"axis":{"orient":"right","values":[-80,-60,-40,-20,0,20,40,60,80,100],"title":null,"labelExpr":"datum.value > 0 ? '+' + datum.value + '%' : (datum.value < 0 ? '−' + (-datum.value) + '%' : '0%')"}}},
    "layer":[
     {"mark":{"type":"area","color":{"gradient":"linear","x1":0,"y1":0,"x2":0,"y2":1,"stops":[{"offset":0,"color":"#cdcdf7"},{"offset":0.358,"color":"#cdcdf7"},{"offset":0.358,"color":"#d9d9d9"},{"offset":1,"color":"#d9d9d9"}]}},"encoding":{"y2":{"datum":0}}},
     {"mark":{"type":"rule","color":"black","strokeWidth":1.2},"encoding":{"x":{"datum":-9.4},"x2":{"datum":0.32},"y":{"datum":0}}},
     {"mark":{"type":"rule","color":"#5252b8","strokeWidth":0.7},"encoding":{"y":{"field":"lo","type":"quantitative","title":null},"y2":{"field":"hi"}}},
     {"mark":{"type":"tick","orient":"horizontal","size":3,"thickness":0.7,"color":"#5252b8"},"encoding":{"y":{"field":"lo","type":"quantitative","title":null}}},
     {"mark":{"type":"tick","orient":"horizontal","size":3,"thickness":0.7,"color":"#5252b8"},"encoding":{"y":{"field":"hi","type":"quantitative","title":null}}},
     {"mark":{"type":"line","color":"#5252b8","strokeWidth":0.9},"encoding":{}},
     {"mark":{"type":"square","size":7,"color":"#2c2c86","opacity":1},"encoding":{}}
    ]},
   {"width":110,"height":69,"data":{"values":[{"x":1.1,"v":-16,"lo":-33,"hi":-11},{"x":1.3,"v":-30,"lo":-35,"hi":-25},{"x":1.5,"v":-27,"lo":-32,"hi":-22},{"x":1.7,"v":-28,"lo":-33,"hi":-23},{"x":1.9,"v":-27,"lo":-31,"hi":-23},{"x":2.1,"v":-28,"lo":-32,"hi":-24},{"x":2.3,"v":-25,"lo":-29,"hi":-21},{"x":2.5,"v":-21,"lo":-25,"hi":-17},{"x":2.7,"v":-23,"lo":-27,"hi":-19},{"x":2.9,"v":-22,"lo":-26,"hi":-18},{"x":3.1,"v":-21,"lo":-25,"hi":-17},{"x":3.3,"v":-20,"lo":-24,"hi":-16},{"x":3.5,"v":-17,"lo":-21,"hi":-13},{"x":3.7,"v":-16,"lo":-20,"hi":-12},{"x":3.9,"v":-14,"lo":-18,"hi":-10},{"x":4.1,"v":-12,"lo":-16,"hi":-8},{"x":4.3,"v":-9,"lo":-13,"hi":-5},{"x":4.5,"v":-6,"lo":-10,"hi":-2},{"x":4.7,"v":-4,"lo":-8,"hi":0},{"x":4.9,"v":0,"lo":-4,"hi":4},{"x":5.1,"v":7,"lo":3,"hi":11},{"x":5.3,"v":12,"lo":8,"hi":16},{"x":5.5,"v":15,"lo":11,"hi":19},{"x":5.7,"v":17.5,"lo":13,"hi":22},{"x":5.9,"v":17,"lo":12,"hi":22},{"x":6.1,"v":17.5,"lo":12,"hi":23},{"x":6.3,"v":15,"lo":10,"hi":20},{"x":6.5,"v":16.5,"lo":9,"hi":23},{"x":6.7,"v":9.6,"lo":1.6,"hi":20},{"x":6.9,"v":4,"lo":-12,"hi":23},{"x":7.1,"v":-4,"lo":-10,"hi":2},{"x":7.3,"v":-12,"lo":-20,"hi":-4},{"x":7.5,"v":-14,"lo":-22,"hi":-6},{"x":7.7,"v":-20,"lo":-28,"hi":-12},{"x":7.9,"v":-22,"lo":-30,"hi":-14},{"x":8.1,"v":-28,"lo":-49,"hi":-12},{"x":8.3,"v":-30,"lo":-43,"hi":-17}]},
    "encoding":{"x":{"field":"x","type":"quantitative","scale":{"domain":[0.1,9.1],"nice":false,"zero":false},"axis":{"values":[2,4,6,8],"offset":-40.5,"title":null}},
     "y":{"field":"v","type":"quantitative","scale":{"domain":[-64,45],"nice":false,"zero":false},"axis":{"values":[-60,-40,-20,0,20,40],"title":null,"labelExpr":"datum.value > 0 ? '+' + datum.value + '%' : (datum.value < 0 ? '−' + (-datum.value) + '%' : '0%')"}}},
    "layer":[
     {"mark":{"type":"area","color":{"gradient":"linear","x1":0,"y1":0,"x2":0,"y2":1,"stops":[{"offset":0,"color":"#cdcdf7"},{"offset":0.368,"color":"#cdcdf7"},{"offset":0.368,"color":"#d9d9d9"},{"offset":1,"color":"#d9d9d9"}]}},"encoding":{"y2":{"datum":0}}},
     {"mark":{"type":"rule","color":"black","strokeWidth":1.2},"encoding":{"x":{"datum":0.1},"x2":{"datum":9.25},"y":{"datum":0}}},
     {"mark":{"type":"rule","color":"#5252b8","strokeWidth":0.7},"encoding":{"y":{"field":"lo","type":"quantitative","title":null},"y2":{"field":"hi"}}},
     {"mark":{"type":"tick","orient":"horizontal","size":3,"thickness":0.7,"color":"#5252b8"},"encoding":{"y":{"field":"lo","type":"quantitative","title":null}}},
     {"mark":{"type":"tick","orient":"horizontal","size":3,"thickness":0.7,"color":"#5252b8"},"encoding":{"y":{"field":"hi","type":"quantitative","title":null}}},
     {"mark":{"type":"line","color":"#5252b8","strokeWidth":0.9},"encoding":{}},
     {"mark":{"type":"square","size":7,"color":"#2c2c86","opacity":1},"encoding":{}}
    ]},
   {"width":110,"height":68,"data":{"values":[{"x":0.03,"v":-33,"lo":-37,"hi":-29},{"x":0.0405,"v":-31,"lo":-35,"hi":-27},{"x":0.051,"v":-30,"lo":-34,"hi":-26},{"x":0.0615,"v":-30,"lo":-33,"hi":-27},{"x":0.072,"v":-28,"lo":-31,"hi":-25},{"x":0.0825,"v":-27,"lo":-30,"hi":-24},{"x":0.093,"v":-25,"lo":-28,"hi":-22},{"x":0.1035,"v":-24,"lo":-27,"hi":-21},{"x":0.114,"v":-22,"lo":-25,"hi":-19},{"x":0.1245,"v":-20,"lo":-23,"hi":-17},{"x":0.135,"v":-18,"lo":-21,"hi":-15},{"x":0.1455,"v":-16,"lo":-19,"hi":-13},{"x":0.156,"v":-13,"lo":-16,"hi":-10},{"x":0.1665,"v":-11,"lo":-14,"hi":-8},{"x":0.177,"v":-8,"lo":-11,"hi":-5},{"x":0.1875,"v":-5,"lo":-8,"hi":-2},{"x":0.198,"v":-2,"lo":-5,"hi":1},{"x":0.2085,"v":1,"lo":-2,"hi":4},{"x":0.219,"v":5,"lo":2,"hi":8},{"x":0.2295,"v":8,"lo":5,"hi":11},{"x":0.24,"v":11,"lo":8,"hi":14},{"x":0.2505,"v":13,"lo":10,"hi":16},{"x":0.261,"v":14,"lo":11,"hi":17},{"x":0.2715,"v":12,"lo":9,"hi":15},{"x":0.282,"v":11,"lo":8,"hi":14},{"x":0.2925,"v":9,"lo":6,"hi":12},{"x":0.303,"v":7,"lo":4,"hi":10},{"x":0.3135,"v":4,"lo":1,"hi":7},{"x":0.324,"v":1,"lo":-2,"hi":4},{"x":0.3345,"v":-2,"lo":-5,"hi":1},{"x":0.345,"v":-5,"lo":-8,"hi":-2},{"x":0.3555,"v":-8,"lo":-11,"hi":-5},{"x":0.366,"v":-11,"lo":-14,"hi":-8},{"x":0.3765,"v":-14,"lo":-17,"hi":-11},{"x":0.387,"v":-16,"lo":-20,"hi":-12},{"x":0.3975,"v":-18,"lo":-22,"hi":-14},{"x":0.408,"v":-20,"lo":-24,"hi":-16},{"x":0.4185,"v":-22,"lo":-27,"hi":-17},{"x":0.429,"v":-24,"lo":-29,"hi":-19},{"x":0.4395,"v":-25,"lo":-30,"hi":-20}]},
    "encoding":{"x":{"field":"x","type":"quantitative","scale":{"domain":[0,0.465],"nice":false,"zero":false},"axis":{"values":[0.1,0.2,0.3,0.4],"offset":-47.9,"title":null}},
     "y":{"field":"v","type":"quantitative","scale":{"domain":[-62,26],"nice":false,"zero":false},"axis":{"values":[-60,-40,-20,0,20],"title":null,"labelExpr":"datum.value > 0 ? '+' + datum.value + '%' : (datum.value < 0 ? '−' + (-datum.value) + '%' : '0%')"}}},
    "layer":[
     {"mark":{"type":"area","color":{"gradient":"linear","x1":0,"y1":0,"x2":0,"y2":1,"stops":[{"offset":0,"color":"#cdcdf7"},{"offset":0.298,"color":"#cdcdf7"},{"offset":0.298,"color":"#d9d9d9"},{"offset":1,"color":"#d9d9d9"}]}},"encoding":{"y2":{"datum":0}}},
     {"mark":{"type":"rule","color":"black","strokeWidth":1.2},"encoding":{"x":{"datum":0},"x2":{"datum":0.465},"y":{"datum":0}}},
     {"mark":{"type":"rule","color":"#5252b8","strokeWidth":0.7},"encoding":{"y":{"field":"lo","type":"quantitative","title":null},"y2":{"field":"hi"}}},
     {"mark":{"type":"tick","orient":"horizontal","size":3,"thickness":0.7,"color":"#5252b8"},"encoding":{"y":{"field":"lo","type":"quantitative","title":null}}},
     {"mark":{"type":"tick","orient":"horizontal","size":3,"thickness":0.7,"color":"#5252b8"},"encoding":{"y":{"field":"hi","type":"quantitative","title":null}}},
     {"mark":{"type":"line","color":"#5252b8","strokeWidth":0.9},"encoding":{}},
     {"mark":{"type":"square","size":7,"color":"#2c2c86","opacity":1},"encoding":{}}
    ]}
  ],"spacing":10}
 ],"spacing":0}
],"spacing":2},
{"width":579,"height":1,"data":{"values":[{}]},"mark":{"type":"rule","opacity":0},"encoding":{"x":{"datum":0,"type":"quantitative","scale":{"domain":[0,1]},"axis":{"orient":"bottom","domain":true,"domainColor":"#999","domainWidth":2,"ticks":false,"labels":false,"grid":false,"title":null}}}},
{"hconcat":[
 {"width":28,"height":111,"data":{"values":[{"name":"phys"}]},"mark":{"type":"text","font":"DejaVu Sans","fontSize":9,"dy":6,"dx":3},"encoding":{"text":{"field":"name"},"y":{"datum":0,"type":"quantitative","scale":{"domain":[-1,1]},"axis":{"orient":"right","domain":true,"domainColor":"black","domainWidth":1,"ticks":false,"labels":false,"grid":false,"title":null}}}},
 {"vconcat":[
  {"width":1,"height":24,"data":{"values":[{}]},"mark":{"type":"rule","opacity":0},"encoding":{"x":{"datum":0,"type":"quantitative","scale":{"domain":[0,1]},"axis":null}}},
  {"hconcat":[
   {"width":111,"height":70,"data":{"values":[{"x":0,"v":-80},{"x":1,"v":-45},{"x":2,"v":-15},{"x":3,"v":5},{"x":4,"v":25},{"x":5,"v":40},{"x":6,"v":52},{"x":7,"v":63},{"x":8,"v":73},{"x":10,"v":90},{"x":12,"v":103},{"x":15,"v":120},{"x":18,"v":135},{"x":21,"v":148},{"x":24,"v":160},{"x":27,"v":172},{"x":30,"v":184},{"x":33,"v":197},{"x":35.5,"v":208}]},
    "encoding":{"x":{"field":"x","type":"quantitative","scale":{"domain":[-0.7,37.85],"nice":false,"zero":false},"axis":{"values":[0,5,10,15,20,25,30,35],"offset":-17.07,"title":null}},
     "y":{"field":"v","type":"quantitative","scale":{"domain":[-100,310],"nice":false,"zero":false},"axis":{"values":[-100,-50,0,50,100,150,200,250,300],"title":null,"labelExpr":"datum.value > 0 ? '+' + datum.value + '%' : (datum.value < 0 ? '−' + (-datum.value) + '%' : '0%')"}}},
    "layer":[
     {"mark":{"type":"area","color":{"gradient":"linear","x1":0,"y1":0,"x2":0,"y2":1,"stops":[{"offset":0,"color":"#cdcdf7"},{"offset":0.722,"color":"#cdcdf7"},{"offset":0.722,"color":"#d9d9d9"},{"offset":1,"color":"#d9d9d9"}]}},"encoding":{"y2":{"datum":0}}},
     {"mark":{"type":"rule","color":"black","strokeWidth":1.2},"encoding":{"x":{"datum":-0.7},"x2":{"datum":37.85},"y":{"datum":0}}},
     {"mark":{"type":"line","color":"#5252b8","strokeWidth":0.9},"encoding":{}},
     {"mark":{"type":"square","size":7,"color":"#2c2c86","opacity":1},"encoding":{}}
    ]},
   {"width":98,"height":77,"data":{"values":[{"x":-4.15,"v":-47,"lo":-53,"hi":-41},{"x":-4.07,"v":-44,"lo":-50,"hi":-38},{"x":-3.99,"v":-45,"lo":-51,"hi":-39},{"x":-3.91,"v":-40,"lo":-46,"hi":-34},{"x":-3.83,"v":-38,"lo":-44,"hi":-32},{"x":-3.75,"v":-36,"lo":-42,"hi":-30},{"x":-3.67,"v":-33,"lo":-39,"hi":-27},{"x":-3.59,"v":-31,"lo":-37,"hi":-25},{"x":-3.51,"v":-28,"lo":-34,"hi":-22},{"x":-3.43,"v":-26,"lo":-32,"hi":-20},{"x":-3.35,"v":-24,"lo":-30,"hi":-18},{"x":-3.27,"v":-20,"lo":-26,"hi":-14},{"x":-3.19,"v":-19,"lo":-25,"hi":-13},{"x":-3.11,"v":-15,"lo":-21,"hi":-9},{"x":-3.03,"v":-13,"lo":-19,"hi":-7},{"x":-2.95,"v":-10,"lo":-16,"hi":-4},{"x":-2.87,"v":-8,"lo":-14,"hi":-2},{"x":-2.79,"v":-5,"lo":-11,"hi":1},{"x":-2.71,"v":-3,"lo":-9,"hi":3},{"x":-2.63,"v":0,"lo":-6,"hi":6},{"x":-2.55,"v":2,"lo":-5,"hi":9},{"x":-2.47,"v":5,"lo":-2,"hi":12},{"x":-2.39,"v":9,"lo":1,"hi":17},{"x":-2.31,"v":12,"lo":3,"hi":21},{"x":-2.23,"v":17,"lo":6,"hi":28},{"x":-2.15,"v":24,"lo":10,"hi":38},{"x":-2.07,"v":32,"lo":16,"hi":48},{"x":-1.99,"v":45,"lo":25,"hi":65},{"x":-1.91,"v":62,"lo":40,"hi":85},{"x":-1.83,"v":80,"lo":55,"hi":100}]},
    "encoding":{"x":{"field":"x","type":"quantitative","scale":{"domain":[-4.3,-1.8],"nice":false,"zero":false},"axis":{"values":[-4,-3,-2],"offset":-34.2,"title":null}},
     "y":{"field":"v","type":"quantitative","scale":{"domain":[-80,100],"nice":false,"zero":false},"axis":{"orient":"right","values":[-80,-60,-40,-20,0,20,40,60,80,100],"title":null,"labelExpr":"datum.value > 0 ? '+' + datum.value + '%' : (datum.value < 0 ? '−' + (-datum.value) + '%' : '0%')"}}},
    "layer":[
     {"mark":{"type":"area","color":{"gradient":"linear","x1":0,"y1":0,"x2":0,"y2":1,"stops":[{"offset":0,"color":"#cdcdf7"},{"offset":0.63,"color":"#cdcdf7"},{"offset":0.63,"color":"#d9d9d9"},{"offset":1,"color":"#d9d9d9"}]}},"encoding":{"y2":{"datum":0}}},
     {"mark":{"type":"rule","color":"black","strokeWidth":1.2},"encoding":{"x":{"datum":-4.3},"x2":{"datum":-1.06},"y":{"datum":0}}},
     {"mark":{"type":"rule","color":"#5252b8","strokeWidth":0.7},"encoding":{"y":{"field":"lo","type":"quantitative","title":null},"y2":{"field":"hi"}}},
     {"mark":{"type":"tick","orient":"horizontal","size":3,"thickness":0.7,"color":"#5252b8"},"encoding":{"y":{"field":"lo","type":"quantitative","title":null}}},
     {"mark":{"type":"tick","orient":"horizontal","size":3,"thickness":0.7,"color":"#5252b8"},"encoding":{"y":{"field":"hi","type":"quantitative","title":null}}},
     {"mark":{"type":"line","color":"#5252b8","strokeWidth":0.9},"encoding":{}},
     {"mark":{"type":"square","size":7,"color":"#2c2c86","opacity":1},"encoding":{}}
    ]},
   {"width":110,"height":69,"data":{"values":[{"x":1.2,"v":-22,"lo":-26,"hi":-18},{"x":1.4,"v":-20,"lo":-24,"hi":-16},{"x":1.6,"v":-19,"lo":-23,"hi":-15},{"x":1.8,"v":-17,"lo":-21,"hi":-13},{"x":2,"v":-17,"lo":-20,"hi":-14},{"x":2.2,"v":-15,"lo":-18,"hi":-12},{"x":2.4,"v":-14,"lo":-17,"hi":-11},{"x":2.6,"v":-13,"lo":-16,"hi":-10},{"x":2.8,"v":-12,"lo":-15,"hi":-9},{"x":3,"v":-11,"lo":-14,"hi":-8},{"x":3.2,"v":-9,"lo":-12,"hi":-6},{"x":3.4,"v":-8,"lo":-11,"hi":-5},{"x":3.6,"v":-6,"lo":-9,"hi":-3},{"x":3.8,"v":-3,"lo":-6,"hi":0},{"x":4,"v":0,"lo":-3,"hi":3},{"x":4.2,"v":2,"lo":-1,"hi":5},{"x":4.4,"v":4,"lo":1,"hi":7},{"x":4.6,"v":7,"lo":4,"hi":10},{"x":4.8,"v":10,"lo":7,"hi":13},{"x":5,"v":13,"lo":10,"hi":16},{"x":5.2,"v":16,"lo":12,"hi":20},{"x":5.4,"v":19,"lo":15,"hi":23},{"x":5.6,"v":22,"lo":18,"hi":26},{"x":5.8,"v":24,"lo":19,"hi":29},{"x":6,"v":26,"lo":21,"hi":31},{"x":6.2,"v":28,"lo":22,"hi":34},{"x":6.4,"v":27,"lo":20,"hi":34},{"x":6.6,"v":24,"lo":16,"hi":32},{"x":6.8,"v":20,"lo":10,"hi":30},{"x":7,"v":14,"lo":4,"hi":24},{"x":7.2,"v":7,"lo":-4,"hi":18},{"x":7.4,"v":0,"lo":-12,"hi":12},{"x":7.6,"v":-8,"lo":-20,"hi":4},{"x":7.8,"v":-15,"lo":-28,"hi":-2},{"x":8,"v":-22,"lo":-36,"hi":-8},{"x":8.2,"v":-28,"lo":-45,"hi":-12},{"x":8.4,"v":-35,"lo":-55,"hi":-15},{"x":8.6,"v":-42,"lo":-62,"hi":-22}]},
    "encoding":{"x":{"field":"x","type":"quantitative","scale":{"domain":[0.1,9.1],"nice":false,"zero":false},"axis":{"values":[2,4,6,8],"offset":-40.5,"title":null}},
     "y":{"field":"v","type":"quantitative","scale":{"domain":[-64,45],"nice":false,"zero":false},"axis":{"values":[-60,-40,-20,0,20,40],"title":null,"labelExpr":"datum.value > 0 ? '+' + datum.value + '%' : (datum.value < 0 ? '−' + (-datum.value) + '%' : '0%')"}}},
    "layer":[
     {"mark":{"type":"area","color":{"gradient":"linear","x1":0,"y1":0,"x2":0,"y2":1,"stops":[{"offset":0,"color":"#cdcdf7"},{"offset":0.4,"color":"#cdcdf7"},{"offset":0.4,"color":"#d9d9d9"},{"offset":1,"color":"#d9d9d9"}]}},"encoding":{"y2":{"datum":0}}},
     {"mark":{"type":"rule","color":"black","strokeWidth":1.2},"encoding":{"x":{"datum":0.1},"x2":{"datum":9.25},"y":{"datum":0}}},
     {"mark":{"type":"rule","color":"#5252b8","strokeWidth":0.7},"encoding":{"y":{"field":"lo","type":"quantitative","title":null},"y2":{"field":"hi"}}},
     {"mark":{"type":"tick","orient":"horizontal","size":3,"thickness":0.7,"color":"#5252b8"},"encoding":{"y":{"field":"lo","type":"quantitative","title":null}}},
     {"mark":{"type":"tick","orient":"horizontal","size":3,"thickness":0.7,"color":"#5252b8"},"encoding":{"y":{"field":"hi","type":"quantitative","title":null}}},
     {"mark":{"type":"line","color":"#5252b8","strokeWidth":0.9},"encoding":{}},
     {"mark":{"type":"square","size":7,"color":"#2c2c86","opacity":1},"encoding":{}}
    ]},
   {"width":110,"height":68,"data":{"values":[{"x":0.02,"v":-42,"lo":-47,"hi":-37},{"x":0.032,"v":-40,"lo":-44,"hi":-36},{"x":0.044,"v":-38,"lo":-42,"hi":-34},{"x":0.056,"v":-37,"lo":-40,"hi":-34},{"x":0.068,"v":-35,"lo":-38,"hi":-32},{"x":0.08,"v":-33,"lo":-36,"hi":-30},{"x":0.092,"v":-31,"lo":-34,"hi":-28},{"x":0.104,"v":-29,"lo":-32,"hi":-26},{"x":0.116,"v":-26,"lo":-29,"hi":-23},{"x":0.128,"v":-23,"lo":-26,"hi":-20},{"x":0.14,"v":-20,"lo":-23,"hi":-17},{"x":0.152,"v":-17,"lo":-20,"hi":-14},{"x":0.164,"v":-13,"lo":-16,"hi":-10},{"x":0.176,"v":-9,"lo":-12,"hi":-6},{"x":0.188,"v":-5,"lo":-8,"hi":-2},{"x":0.2,"v":-1,"lo":-4,"hi":2},{"x":0.212,"v":3,"lo":0,"hi":6},{"x":0.224,"v":7,"lo":4,"hi":10},{"x":0.236,"v":11,"lo":8,"hi":14},{"x":0.248,"v":15,"lo":12,"hi":18},{"x":0.26,"v":18,"lo":15,"hi":21},{"x":0.272,"v":20,"lo":17,"hi":23},{"x":0.284,"v":21,"lo":18,"hi":24},{"x":0.296,"v":20,"lo":17,"hi":23},{"x":0.308,"v":18,"lo":15,"hi":21},{"x":0.32,"v":15,"lo":12,"hi":18},{"x":0.332,"v":11,"lo":8,"hi":14},{"x":0.344,"v":7,"lo":4,"hi":10},{"x":0.356,"v":3,"lo":0,"hi":6},{"x":0.368,"v":-2,"lo":-5,"hi":1},{"x":0.38,"v":-7,"lo":-10,"hi":-4},{"x":0.392,"v":-12,"lo":-15,"hi":-9},{"x":0.404,"v":-17,"lo":-20,"hi":-14},{"x":0.416,"v":-22,"lo":-25,"hi":-19},{"x":0.428,"v":-27,"lo":-30,"hi":-24},{"x":0.44,"v":-32,"lo":-36,"hi":-28},{"x":0.452,"v":-37,"lo":-41,"hi":-33},{"x":0.464,"v":-42,"lo":-46,"hi":-38},{"x":0.476,"v":-47,"lo":-52,"hi":-42},{"x":0.488,"v":-52,"lo":-57,"hi":-47},{"x":0.5,"v":-55,"lo":-60,"hi":-50}]},
    "encoding":{"x":{"field":"x","type":"quantitative","scale":{"domain":[0,0.51],"nice":false,"zero":false},"axis":{"values":[0.1,0.2,0.3,0.4,0.5],"offset":-47.9,"title":null}},
     "y":{"field":"v","type":"quantitative","scale":{"domain":[-62,26],"nice":false,"zero":false},"axis":{"values":[-60,-40,-20,0,20],"title":null,"labelExpr":"datum.value > 0 ? '+' + datum.value + '%' : (datum.value < 0 ? '−' + (-datum.value) + '%' : '0%')"}}},
    "layer":[
     {"mark":{"type":"area","color":{"gradient":"linear","x1":0,"y1":0,"x2":0,"y2":1,"stops":[{"offset":0,"color":"#cdcdf7"},{"offset":0.276,"color":"#cdcdf7"},{"offset":0.276,"color":"#d9d9d9"},{"offset":1,"color":"#d9d9d9"}]}},"encoding":{"y2":{"datum":0}}},
     {"mark":{"type":"rule","color":"black","strokeWidth":1.2},"encoding":{"x":{"datum":0},"x2":{"datum":0.51},"y":{"datum":0}}},
     {"mark":{"type":"rule","color":"#5252b8","strokeWidth":0.7},"encoding":{"y":{"field":"lo","type":"quantitative","title":null},"y2":{"field":"hi"}}},
     {"mark":{"type":"tick","orient":"horizontal","size":3,"thickness":0.7,"color":"#5252b8"},"encoding":{"y":{"field":"lo","type":"quantitative","title":null}}},
     {"mark":{"type":"tick","orient":"horizontal","size":3,"thickness":0.7,"color":"#5252b8"},"encoding":{"y":{"field":"hi","type":"quantitative","title":null}}},
     {"mark":{"type":"line","color":"#5252b8","strokeWidth":0.9},"encoding":{}},
     {"mark":{"type":"square","size":7,"color":"#2c2c86","opacity":1},"encoding":{}}
    ]}
  ],"spacing":10}
 ],"spacing":0}
],"spacing":2}
]
}
